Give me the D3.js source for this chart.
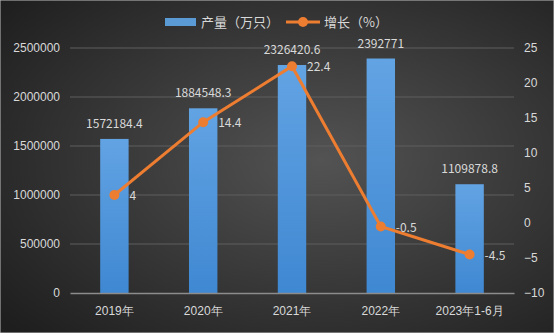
<!DOCTYPE html>
<html>
<head>
<meta charset="utf-8">
<script src="https://cdn.jsdelivr.net/npm/d3@7"></script>
<style>
  body { margin: 0; background: #2a2a2a; }
  svg { display: block; font-family: "Microsoft YaHei", "Noto Sans CJK SC", sans-serif; }
</style>
</head>
<body>
<svg id="chart" width="554" height="333"></svg>
<script>
const categories = ['2019年', '2020年', '2021年', '2022年', '2023年1-6月'];
const output = [1572184.4, 1884548.3, 2326420.6, 2392771, 1109878.8];
const growth = [4, 14.4, 22.4, -0.5, -4.5];
const leftTicks = [0, 500000, 1000000, 1500000, 2000000, 2500000];
const rightTicks = [-10, -5, 0, 5, 10, 15, 20, 25];

const width = 554, height = 333;
const margin = { top: 48, right: 40, bottom: 40, left: 70 };
const svg = d3.select('#chart');

const defs = svg.append('defs');
const bg = defs.append('radialGradient').attr('id', 'bg')
  .attr('cx', '58%').attr('cy', '48%').attr('r', '75%');
bg.append('stop').attr('offset', '0%').attr('stop-color', '#535353');
bg.append('stop').attr('offset', '100%').attr('stop-color', '#1e1e1e');
const barGrad = defs.append('linearGradient').attr('id', 'bar')
  .attr('x1', 0).attr('y1', 0).attr('x2', 0).attr('y2', 1);
barGrad.append('stop').attr('offset', '0%').attr('stop-color', '#62a3e3');
barGrad.append('stop').attr('offset', '100%').attr('stop-color', '#3f88d2');

svg.append('rect').attr('width', width).attr('height', height)
  .attr('fill', 'url(#bg)').attr('stroke', '#bfbfbf').attr('stroke-width', 1);

const x = d3.scaleBand().domain(categories)
  .range([margin.left, width - margin.right]).paddingInner(0.68).paddingOuter(0.34);
const yL = d3.scaleLinear().domain([0, 2500000]).range([height - margin.bottom, margin.top]);
const yR = d3.scaleLinear().domain([-10, 25]).range([height - margin.bottom, margin.top]);

// gridlines
svg.append('g').selectAll('line').data(leftTicks.slice(1)).enter().append('line')
  .attr('x1', margin.left).attr('x2', width - margin.right)
  .attr('y1', d => yL(d)).attr('y2', d => yL(d))
  .attr('stroke', '#5e5e5e').attr('stroke-width', 1);

// left axis
const axL = svg.append('g').attr('transform', `translate(${margin.left},0)`)
  .call(d3.axisLeft(yL).tickValues(leftTicks).tickSize(0).tickPadding(10).tickFormat(d3.format('d')));
axL.select('.domain').remove();
axL.selectAll('text').attr('fill', '#d9d9d9').style('font-size', '12px');

// right axis
const axR = svg.append('g').attr('transform', `translate(${width - margin.right},0)`)
  .call(d3.axisRight(yR).tickValues(rightTicks).tickSize(0).tickPadding(10));
axR.select('.domain').remove();
axR.selectAll('text').attr('fill', '#d9d9d9').style('font-size', '12px');

// bars
svg.append('g').selectAll('rect').data(output).enter().append('rect')
  .attr('x', (d, i) => x(categories[i]))
  .attr('width', x.bandwidth())
  .attr('y', d => yL(d))
  .attr('height', d => yL(0) - yL(d))
  .attr('fill', 'url(#bar)');

// x axis
const axX = svg.append('g').attr('transform', `translate(0,${yL(0)})`)
  .call(d3.axisBottom(x).tickSize(0).tickPadding(13));
axX.select('.domain').attr('stroke', '#8c8c8c').attr('stroke-width', 1.5);
axX.selectAll('text').attr('fill', '#d9d9d9').style('font-size', '12px');

// bar labels
svg.append('g').selectAll('text').data(output).enter().append('text')
  .attr('x', (d, i) => x(categories[i]) + x.bandwidth() / 2)
  .attr('y', d => yL(d) - 11)
  .attr('text-anchor', 'middle')
  .attr('fill', '#d9d9d9').style('font-size', '12px')
  .text(d => d);

// growth line
const cx = (d, i) => x(categories[i]) + x.bandwidth() / 2;
const line = d3.line().x(cx).y(d => yR(d));
svg.append('path').datum(growth).attr('d', line)
  .attr('fill', 'none').attr('stroke', '#ed7d31').attr('stroke-width', 3);
svg.append('g').selectAll('circle').data(growth).enter().append('circle')
  .attr('cx', cx).attr('cy', d => yR(d)).attr('r', 5)
  .attr('fill', '#ed7d31');
svg.append('g').selectAll('text').data(growth).enter().append('text')
  .attr('x', (d, i) => cx(d, i) + 15)
  .attr('y', d => yR(d) + 5)
  .attr('fill', '#d9d9d9').style('font-size', '12px')
  .text(d => d);

// legend
const lg = svg.append('g').attr('transform', 'translate(165,22)');
lg.append('rect').attr('x', 0).attr('y', -4).attr('width', 31).attr('height', 8).attr('fill', '#5b9bd5');
lg.append('text').attr('x', 36).attr('y', 5).attr('fill', '#d9d9d9').style('font-size', '13px').text('产量（万只）');
lg.append('line').attr('x1', 121).attr('x2', 155).attr('y1', 0).attr('y2', 0)
  .attr('stroke', '#ed7d31').attr('stroke-width', 3);
lg.append('circle').attr('cx', 138).attr('cy', 0).attr('r', 5).attr('fill', '#ed7d31');
lg.append('text').attr('x', 159).attr('y', 5).attr('fill', '#d9d9d9').style('font-size', '13px').text('增长（%）');
</script>
</body>
</html>
